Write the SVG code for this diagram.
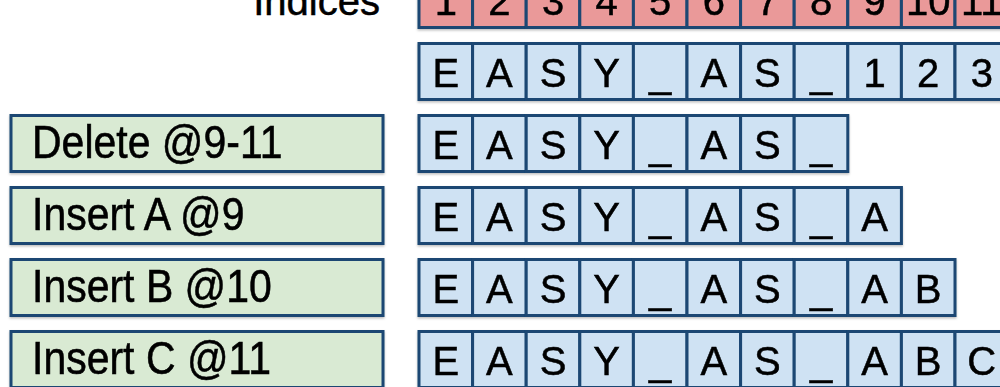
<svg xmlns="http://www.w3.org/2000/svg" width="1000" height="387" viewBox="0 0 1000 387">
<defs>
<filter id="sh" x="-5%" y="-20%" width="110%" height="150%">
<feDropShadow dx="0" dy="1.5" stdDeviation="1.2" flood-color="#000" flood-opacity="0.25"/>
</filter>
</defs>
<style>
text{font-family:"Liberation Sans",Arial,sans-serif;fill:#000;stroke:#000;stroke-width:0.5}
.c{font-size:40px;text-anchor:middle}
.l{font-size:41px}
.red rect{fill:#ea9999;stroke:#1a4673;stroke-width:3}
.blue rect{fill:#cfe2f3;stroke:#1a4673;stroke-width:3}
.lab rect{fill:#d9ead3;stroke:#1a4673;stroke-width:3}
</style>
<rect width="1000" height="387" fill="#fff"/>
<text x="380" y="15" style="font-size:40px;text-anchor:end">Indices</text>

<g id="indices" class="red" filter="url(#sh)">
<rect x="419" y="-28.5" width="53.6" height="56"/><rect x="472.6" y="-28.5" width="53.6" height="56"/><rect x="526.2" y="-28.5" width="53.6" height="56"/><rect x="579.8" y="-28.5" width="53.6" height="56"/><rect x="633.4" y="-28.5" width="53.6" height="56"/><rect x="687" y="-28.5" width="53.6" height="56"/><rect x="740.6" y="-28.5" width="53.6" height="56"/><rect x="794.2" y="-28.5" width="53.6" height="56"/><rect x="847.8" y="-28.5" width="53.6" height="56"/><rect x="901.4" y="-28.5" width="53.6" height="56"/><rect x="955" y="-28.5" width="53.6" height="56"/>
<text class="c" y="14.5"><tspan x="445.8">1</tspan><tspan x="499.4">2</tspan><tspan x="553">3</tspan><tspan x="606.6">4</tspan><tspan x="660.2">5</tspan><tspan x="713.8">6</tspan><tspan x="767.4">7</tspan><tspan x="821">8</tspan><tspan x="874.6">9</tspan><tspan x="928.2">10</tspan><tspan x="981.8">11</tspan></text>
</g>

<g id="row-original" class="blue" filter="url(#sh)">
<rect x="419" y="43.5" width="53.6" height="56"/><rect x="472.6" y="43.5" width="53.6" height="56"/><rect x="526.2" y="43.5" width="53.6" height="56"/><rect x="579.8" y="43.5" width="53.6" height="56"/><rect x="633.4" y="43.5" width="53.6" height="56"/><rect x="687" y="43.5" width="53.6" height="56"/><rect x="740.6" y="43.5" width="53.6" height="56"/><rect x="794.2" y="43.5" width="53.6" height="56"/><rect x="847.8" y="43.5" width="53.6" height="56"/><rect x="901.4" y="43.5" width="53.6" height="56"/><rect x="955" y="43.5" width="53.6" height="56"/>
<text class="c" y="86.5"><tspan x="445.8">E</tspan><tspan x="499.4">A</tspan><tspan x="553">S</tspan><tspan x="606.6">Y</tspan><tspan x="660.2">_</tspan><tspan x="713.8">A</tspan><tspan x="767.4">S</tspan><tspan x="821">_</tspan><tspan x="874.6">1</tspan><tspan x="928.2">2</tspan><tspan x="981.8">3</tspan></text>
</g>

<g id="label-delete" class="lab" filter="url(#sh)">
<rect x="11" y="115.5" width="372" height="56"/>
<text class="l" transform="translate(32,157.5) scale(1,1.12)">Delete @9-11</text>
</g>
<g id="row-delete" class="blue" filter="url(#sh)">
<rect x="419" y="115.5" width="53.6" height="56"/><rect x="472.6" y="115.5" width="53.6" height="56"/><rect x="526.2" y="115.5" width="53.6" height="56"/><rect x="579.8" y="115.5" width="53.6" height="56"/><rect x="633.4" y="115.5" width="53.6" height="56"/><rect x="687" y="115.5" width="53.6" height="56"/><rect x="740.6" y="115.5" width="53.6" height="56"/><rect x="794.2" y="115.5" width="53.6" height="56"/>
<text class="c" y="158.5"><tspan x="445.8">E</tspan><tspan x="499.4">A</tspan><tspan x="553">S</tspan><tspan x="606.6">Y</tspan><tspan x="660.2">_</tspan><tspan x="713.8">A</tspan><tspan x="767.4">S</tspan><tspan x="821">_</tspan></text>
</g>

<g id="label-insert-a" class="lab" filter="url(#sh)">
<rect x="11" y="187.5" width="372" height="56"/>
<text class="l" transform="translate(32,229.5) scale(1,1.12)">Insert A @9</text>
</g>
<g id="row-insert-a" class="blue" filter="url(#sh)">
<rect x="419" y="187.5" width="53.6" height="56"/><rect x="472.6" y="187.5" width="53.6" height="56"/><rect x="526.2" y="187.5" width="53.6" height="56"/><rect x="579.8" y="187.5" width="53.6" height="56"/><rect x="633.4" y="187.5" width="53.6" height="56"/><rect x="687" y="187.5" width="53.6" height="56"/><rect x="740.6" y="187.5" width="53.6" height="56"/><rect x="794.2" y="187.5" width="53.6" height="56"/><rect x="847.8" y="187.5" width="53.6" height="56"/>
<text class="c" y="230.5"><tspan x="445.8">E</tspan><tspan x="499.4">A</tspan><tspan x="553">S</tspan><tspan x="606.6">Y</tspan><tspan x="660.2">_</tspan><tspan x="713.8">A</tspan><tspan x="767.4">S</tspan><tspan x="821">_</tspan><tspan x="874.6">A</tspan></text>
</g>

<g id="label-insert-b" class="lab" filter="url(#sh)">
<rect x="11" y="259.5" width="372" height="56"/>
<text class="l" transform="translate(32,301.5) scale(1,1.12)">Insert B @10</text>
</g>
<g id="row-insert-b" class="blue" filter="url(#sh)">
<rect x="419" y="259.5" width="53.6" height="56"/><rect x="472.6" y="259.5" width="53.6" height="56"/><rect x="526.2" y="259.5" width="53.6" height="56"/><rect x="579.8" y="259.5" width="53.6" height="56"/><rect x="633.4" y="259.5" width="53.6" height="56"/><rect x="687" y="259.5" width="53.6" height="56"/><rect x="740.6" y="259.5" width="53.6" height="56"/><rect x="794.2" y="259.5" width="53.6" height="56"/><rect x="847.8" y="259.5" width="53.6" height="56"/><rect x="901.4" y="259.5" width="53.6" height="56"/>
<text class="c" y="302.5"><tspan x="445.8">E</tspan><tspan x="499.4">A</tspan><tspan x="553">S</tspan><tspan x="606.6">Y</tspan><tspan x="660.2">_</tspan><tspan x="713.8">A</tspan><tspan x="767.4">S</tspan><tspan x="821">_</tspan><tspan x="874.6">A</tspan><tspan x="928.2">B</tspan></text>
</g>

<g id="label-insert-c" class="lab" filter="url(#sh)">
<rect x="11" y="331.5" width="372" height="56"/>
<text class="l" transform="translate(32,373.5) scale(1,1.12)">Insert C @11</text>
</g>
<g id="row-insert-c" class="blue" filter="url(#sh)">
<rect x="419" y="331.5" width="53.6" height="56"/><rect x="472.6" y="331.5" width="53.6" height="56"/><rect x="526.2" y="331.5" width="53.6" height="56"/><rect x="579.8" y="331.5" width="53.6" height="56"/><rect x="633.4" y="331.5" width="53.6" height="56"/><rect x="687" y="331.5" width="53.6" height="56"/><rect x="740.6" y="331.5" width="53.6" height="56"/><rect x="794.2" y="331.5" width="53.6" height="56"/><rect x="847.8" y="331.5" width="53.6" height="56"/><rect x="901.4" y="331.5" width="53.6" height="56"/><rect x="955" y="331.5" width="53.6" height="56"/>
<text class="c" y="374.5"><tspan x="445.8">E</tspan><tspan x="499.4">A</tspan><tspan x="553">S</tspan><tspan x="606.6">Y</tspan><tspan x="660.2">_</tspan><tspan x="713.8">A</tspan><tspan x="767.4">S</tspan><tspan x="821">_</tspan><tspan x="874.6">A</tspan><tspan x="928.2">B</tspan><tspan x="981.8">C</tspan></text>
</g>
<g id="connectors"/>
</svg>
